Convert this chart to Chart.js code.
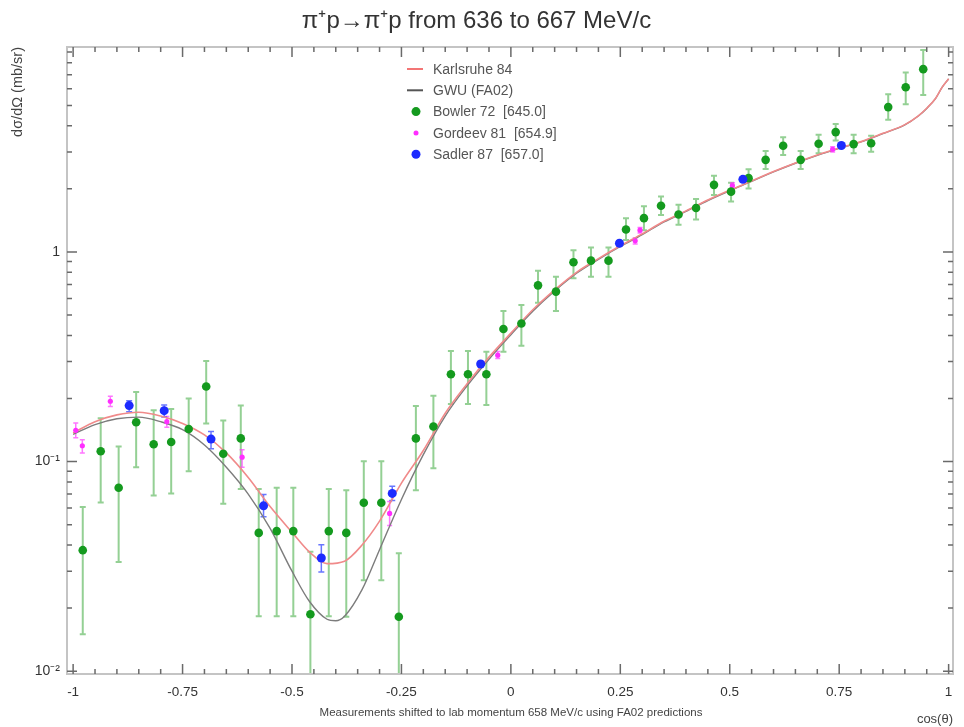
<!DOCTYPE html>
<html>
<head>
<meta charset="utf-8">
<title>pi+ p elastic 636-667 MeV/c</title>
<script src="https://cdn.jsdelivr.net/npm/chart.js@4.4.1/dist/chart.umd.min.js"></script>
<style>
  html, body { margin: 0; background: #fff; }
</style>
</head>
<body>
<canvas id="chart" width="964" height="727"></canvas>
<script>
// axis ticks
const xTicks = [-1, -0.75, -0.5, -0.25, 0, 0.25, 0.5, 0.75, 1];
const xTickLabels = ["-1", "-0.75", "-0.5", "-0.25", "0", "0.25", "0.5", "0.75", "1"];
const yTicks = [0.01, 0.1, 1];
const yTickLabels = ["10\u207B\u00B2", "10\u207B\u00B9", "1"];

// Bowler 72 [645.0]
const bowlerX = [-0.978, -0.937, -0.896, -0.856, -0.816, -0.776, -0.736, -0.696, -0.657, -0.617,
  -0.576, -0.535, -0.497, -0.458, -0.416, -0.376, -0.336, -0.296, -0.256, -0.217,
  -0.177, -0.137, -0.098, -0.056, -0.017, 0.024, 0.062, 0.103, 0.143, 0.183,
  0.223, 0.263, 0.304, 0.343, 0.383, 0.423, 0.464, 0.503, 0.543, 0.582,
  0.622, 0.662, 0.703, 0.742, 0.783, 0.823, 0.862, 0.902, 0.942];
const bowlerY = [0.0378, 0.112, 0.075, 0.154, 0.121, 0.124, 0.143, 0.228, 0.109, 0.129,
  0.0457, 0.0466, 0.0466, 0.0187, 0.0466, 0.0457, 0.0636, 0.0636, 0.0182, 0.129,
  0.147, 0.261, 0.261, 0.261, 0.429, 0.456, 0.693, 0.647, 0.893, 0.909,
  0.909, 1.28, 1.45, 1.66, 1.51, 1.62, 2.09, 1.94, 2.25, 2.75,
  3.21, 2.75, 3.28, 3.73, 3.27, 3.30, 4.91, 6.11, 7.45];
const bowlerLo = [0.0150, 0.0638, 0.0332, 0.094, 0.069, 0.0705, 0.090, 0.152, 0.063, 0.074,
  0.0183, 0.0183, 0.0183, 0.005, 0.0183, 0.0182, 0.0272, 0.0272, 0.005, 0.073,
  0.093, 0.188, 0.188, 0.186, 0.334, 0.357, 0.573, 0.523, 0.749, 0.762,
  0.762, 1.14, 1.27, 1.50, 1.35, 1.43, 1.87, 1.74, 2.01, 2.49,
  2.90, 2.49, 2.96, 3.40, 2.96, 3.01, 4.27, 5.07, 5.61];
const bowlerHi = [0.0608, 0.161, 0.118, 0.215, 0.176, 0.178, 0.200, 0.302, 0.157, 0.185,
  0.074, 0.075, 0.075, 0.0371, 0.074, 0.073, 0.1005, 0.1005, 0.0365, 0.184,
  0.206, 0.337, 0.337, 0.334, 0.523, 0.558, 0.814, 0.762, 1.02, 1.05,
  1.05, 1.45, 1.65, 1.84, 1.68, 1.79, 2.31, 2.14, 2.48, 3.03,
  3.53, 3.03, 3.62, 4.08, 3.62, 3.58, 5.66, 7.17, 9.2];

// Gordeev 81 [654.9]
const gordeevX = [-0.994, -0.979, -0.915, -0.786, -0.614, -0.277, -0.030, 0.284, 0.295, 0.506, 0.735];
const gordeevY = [0.141, 0.119, 0.194, 0.155, 0.105, 0.0566, 0.322, 1.13, 1.27, 2.07, 3.09];
const gordeevLo = [0.130, 0.110, 0.183, 0.146, 0.094, 0.0496, 0.310, 1.09, 1.23, 2.00, 3.00];
const gordeevHi = [0.153, 0.127, 0.205, 0.164, 0.114, 0.0645, 0.335, 1.17, 1.31, 2.14, 3.18];

// Sadler 87 [657.0]
const sadlerX = [-0.872, -0.792, -0.685, -0.565, -0.433, -0.271, -0.069, 0.248, 0.530, 0.755];
const sadlerY = [0.185, 0.175, 0.128, 0.0615, 0.0347, 0.0705, 0.292, 1.10, 2.22, 3.22];
const sadlerLo = [0.173, 0.163, 0.115, 0.0545, 0.0297, 0.0652, 0.284, 1.07, 2.17, 3.15];
const sadlerHi = [0.195, 0.186, 0.139, 0.0697, 0.0401, 0.0762, 0.300, 1.13, 2.27, 3.29];

// Karlsruhe 84 curve
const karlX = [-1, -0.95, -0.9, -0.85, -0.8, -0.75, -0.7, -0.65, -0.6, -0.55,
  -0.5, -0.46, -0.42, -0.38, -0.34, -0.3, -0.25, -0.2, -0.15, -0.1,
  -0.05, 0, 0.05, 0.1, 0.15, 0.2, 0.25, 0.3, 0.35, 0.4,
  0.45, 0.5, 0.55, 0.6, 0.65, 0.7, 0.75, 0.8, 0.85, 0.9,
  0.93, 0.95, 0.97, 0.985, 1];
const karlY = [0.137, 0.155, 0.167, 0.172, 0.165, 0.152, 0.134, 0.110, 0.084, 0.061,
  0.046, 0.037, 0.0326, 0.0335, 0.040, 0.052, 0.079, 0.113, 0.170, 0.235,
  0.315, 0.41, 0.53, 0.66, 0.80, 0.93, 1.07, 1.22, 1.40, 1.57,
  1.77, 1.97, 2.18, 2.42, 2.66, 2.90, 3.13, 3.36, 3.68, 4.05,
  4.45, 4.85, 5.40, 6.10, 6.70];

// GWU (FA02) curve
const gwuX = [-1, -0.95, -0.9, -0.85, -0.8, -0.75, -0.7, -0.65, -0.6, -0.55,
  -0.5, -0.46, -0.42, -0.4, -0.38, -0.34, -0.3, -0.25, -0.2, -0.15,
  -0.1, -0.05, 0, 0.05, 0.1, 0.15, 0.2, 0.25, 0.3, 0.35,
  0.4, 0.45, 0.5, 0.55, 0.6, 0.65, 0.7, 0.75, 0.8, 0.85,
  0.9, 0.93, 0.95, 0.97, 0.985, 1];
const gwuY = [0.135, 0.150, 0.160, 0.163, 0.155, 0.142, 0.120, 0.094, 0.070, 0.048,
  0.030, 0.0215, 0.0177, 0.0174, 0.0183, 0.0245, 0.038, 0.066, 0.108, 0.165,
  0.230, 0.308, 0.403, 0.522, 0.652, 0.792, 0.922, 1.062, 1.21, 1.39,
  1.56, 1.76, 1.96, 2.17, 2.41, 2.65, 2.89, 3.12, 3.35, 3.67,
  4.04, 4.44, 4.84, 5.39, 6.09, 6.69];

const FONT = "'Liberation Sans', Arial, sans-serif";
const GREEN = "#149a1e";
const GREEN_BAR = "rgba(60,170,60,0.55)";
const MAGENTA = "#ff2eff";
const BLUE = "#1d2bff";
const RED = "#f08a8a";
const GRAY = "#7c7c7c";

function pts(xs, ys) {
  return xs.map((x, i) => ({ x: x, y: ys[i] }));
}

const errorSets = [
  { xs: bowlerX, lo: bowlerLo, hi: bowlerHi, color: GREEN_BAR, width: 2, cap: 3 },
  { xs: gordeevX, lo: gordeevLo, hi: gordeevHi, color: "rgba(255,60,255,0.7)", width: 1.5, cap: 2.5 },
  { xs: sadlerX, lo: sadlerLo, hi: sadlerHi, color: "rgba(40,60,255,0.7)", width: 1.5, cap: 3 }
];

const legendRows = [
  { label: "Karlsruhe 84", type: "line", color: "#f37575" },
  { label: "GWU (FA02)", type: "line", color: "#555" },
  { label: "Bowler 72  [645.0]", type: "dot", color: GREEN, r: 4.5 },
  { label: "Gordeev 81  [654.9]", type: "dot", color: MAGENTA, r: 2.5 },
  { label: "Sadler 87  [657.0]", type: "dot", color: BLUE, r: 4.5 }
];

const decor = {
  id: "decor",
  beforeDatasetsDraw(chart) {
    const ctx = chart.ctx, a = chart.chartArea;
    const sx = chart.scales.x, sy = chart.scales.y;
    ctx.save();
    ctx.beginPath();
    ctx.rect(a.left, a.top, a.right - a.left, a.bottom - a.top);
    ctx.clip();
    errorSets.forEach(s => {
      ctx.strokeStyle = s.color;
      ctx.lineWidth = s.width;
      s.xs.forEach((x, i) => {
        const px = sx.getPixelForValue(x);
        const p1 = sy.getPixelForValue(s.lo[i]);
        const p2 = sy.getPixelForValue(s.hi[i]);
        ctx.beginPath();
        ctx.moveTo(px, p1); ctx.lineTo(px, p2);
        ctx.moveTo(px - s.cap, p1); ctx.lineTo(px + s.cap, p1);
        ctx.moveTo(px - s.cap, p2); ctx.lineTo(px + s.cap, p2);
        ctx.stroke();
      });
    });
    ctx.restore();
  },
  afterDraw(chart) {
    const ctx = chart.ctx, a = chart.chartArea;
    const sx = chart.scales.x, sy = chart.scales.y;
    ctx.save();
    // frame
    ctx.strokeStyle = "#c4c4c4";
    ctx.lineWidth = 2;
    ctx.strokeRect(a.left, a.top, a.right - a.left, a.bottom - a.top);

    // ticks pointing into the plot
    ctx.strokeStyle = "#6a6a6a";
    ctx.lineWidth = 1.5;
    function xTick(v, len) {
      const px = sx.getPixelForValue(v);
      ctx.beginPath();
      ctx.moveTo(px, a.bottom); ctx.lineTo(px, a.bottom - len);
      ctx.moveTo(px, a.top); ctx.lineTo(px, a.top + len);
      ctx.stroke();
    }
    function yTick(v, len) {
      const py = sy.getPixelForValue(v);
      if (py < a.top - 0.5 || py > a.bottom + 0.5) return;
      ctx.beginPath();
      ctx.moveTo(a.left, py); ctx.lineTo(a.left + len, py);
      ctx.moveTo(a.right, py); ctx.lineTo(a.right - len, py);
      ctx.stroke();
    }
    for (let i = 0; i < xTicks.length; i++) {
      xTick(xTicks[i], 10);
      if (i < xTicks.length - 1) {
        const step = (xTicks[i + 1] - xTicks[i]) / 5;
        for (let k = 1; k < 5; k++) xTick(xTicks[i] + k * step, 5);
      }
    }
    yTicks.forEach(d => {
      yTick(d, 10);
      for (let m = 2; m <= 9; m++) yTick(d * m, 5);
    });

    // legend
    ctx.font = "14px " + FONT;
    ctx.textBaseline = "middle";
    legendRows.forEach((row, i) => {
      const y = 69 + i * 21.3;
      if (row.type === "line") {
        ctx.strokeStyle = row.color;
        ctx.lineWidth = 2;
        ctx.beginPath();
        ctx.moveTo(407, y); ctx.lineTo(423, y);
        ctx.stroke();
      } else {
        ctx.fillStyle = row.color;
        ctx.beginPath();
        ctx.arc(416, y, row.r, 0, Math.PI * 2);
        ctx.fill();
      }
      ctx.fillStyle = "#555";
      ctx.textAlign = "left";
      ctx.fillText(row.label, 433, y + 1);
    });

    // note under the axis
    ctx.font = "11.5px " + FONT;
    ctx.fillStyle = "#444";
    ctx.textAlign = "center";
    ctx.fillText("Measurements shifted to lab momentum 658 MeV/c using FA02 predictions", 511, 713);
    ctx.restore();
  }
};

new Chart(document.getElementById("chart"), {
  type: "scatter",
  data: {
    datasets: [
      {
        label: "Bowler 72  [645.0]",
        data: pts(bowlerX, bowlerY),
        backgroundColor: GREEN, borderColor: GREEN,
        pointRadius: 4.3, borderWidth: 0, order: 1
      },
      {
        label: "Gordeev 81  [654.9]",
        data: pts(gordeevX, gordeevY),
        backgroundColor: MAGENTA, borderColor: MAGENTA,
        pointRadius: 2.6, borderWidth: 0, order: 2
      },
      {
        label: "Sadler 87  [657.0]",
        data: pts(sadlerX, sadlerY),
        backgroundColor: BLUE, borderColor: BLUE,
        pointRadius: 4.5, borderWidth: 0, order: 0
      },
      {
        type: "line",
        label: "Karlsruhe 84",
        data: pts(karlX, karlY),
        borderColor: RED, borderWidth: 1.6,
        pointRadius: 0, fill: false, showLine: true,
        cubicInterpolationMode: "monotone", order: 3
      },
      {
        type: "line",
        label: "GWU (FA02)",
        data: pts(gwuX, gwuY),
        borderColor: GRAY, borderWidth: 1.4,
        pointRadius: 0, fill: false, showLine: true,
        cubicInterpolationMode: "monotone", order: 4
      }
    ]
  },
  options: {
    responsive: false,
    animation: false,
    layout: { padding: { left: 0, right: 11, top: 0, bottom: 0 } },
    plugins: {
      legend: { display: false },
      tooltip: { enabled: false },
      title: {
        display: true,
        text: "\u03C0\u207Ap\u2192\u03C0\u207Ap from 636 to 667 MeV/c",
        font: { family: FONT, size: 24, weight: "normal", lineHeight: 1.1 },
        color: "#333",
        padding: { top: 8, bottom: 12.6 }
      }
    },
    scales: {
      x: {
        type: "linear",
        min: -1.014,
        max: 1.01,
        grid: { display: false, drawTicks: false },
        border: { display: false },
        afterBuildTicks: s => { s.ticks = xTicks.map(v => ({ value: v })); },
        afterFit: s => { s.height = 53; },
        ticks: {
          padding: 10,
          color: "#333",
          font: { family: FONT, size: 13.5 },
          callback: (v, i) => xTickLabels[xTicks.indexOf(v)]
        },
        title: {
          display: true,
          text: "cos(\u03B8)",
          align: "end",
          color: "#444",
          font: { family: FONT, size: 13 },
          padding: { top: 4, bottom: 0 }
        }
      },
      y: {
        type: "logarithmic",
        min: 0.0097,
        max: 9.5,
        grid: { display: false, drawTicks: false },
        border: { display: false },
        afterBuildTicks: s => { s.ticks = yTicks.map(v => ({ value: v })); },
        afterFit: s => { s.width = 67; },
        ticks: {
          padding: 7,
          color: "#333",
          font: { family: FONT, size: 14 },
          callback: v => {
            const i = yTicks.findIndex(t => Math.abs(t - v) < t * 1e-6);
            return i >= 0 ? yTickLabels[i] : "";
          }
        },
        title: {
          display: true,
          text: "d\u03C3/d\u03A9 (mb/sr)",
          align: "end",
          color: "#444",
          font: { family: FONT, size: 14.5 },
          padding: { top: 9, bottom: 0 }
        }
      }
    }
  },
  plugins: [decor]
});
</script>
</body>
</html>
